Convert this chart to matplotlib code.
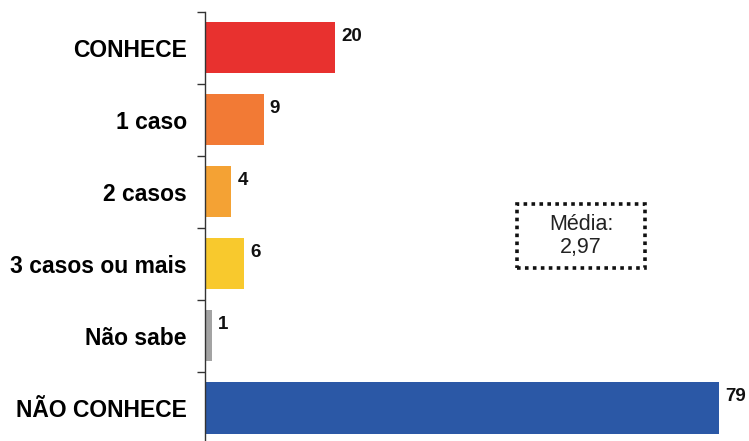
import numpy as np
import matplotlib
matplotlib.use("Agg")
import matplotlib.pyplot as plt
from matplotlib.patches import Rectangle

# Data
categories = ["CONHECE", "1 caso", "2 casos", "3 casos ou mais", "Não sabe", "NÃO CONHECE"]
values = [20, 9, 4, 6, 1, 79]
colors = ["#E8312F", "#F27A35", "#F4A234", "#F8C92D", "#A3A3A3", "#2B58A6"]
media_label = "Média:\n2,97"

plt.rcParams['font.family'] = ['Liberation Sans', 'DejaVu Sans']

fig = plt.figure(figsize=(7.49, 4.41), dpi=100)
# axes: left edge at the vertical axis line, top at first tick, bottom slightly below figure
ax = fig.add_axes([205 / 749, -3 / 441, 1 - 205 / 749, (441 - 11.5 + 3) / 441])

y = np.arange(len(categories))
ax.barh(y, values, height=0.71, color=colors)

ax.set_ylim(len(categories) - 0.5, -0.5)
ax.set_xlim(0, (749 - 205) / 6.5)

# category labels at bar centres, tick marks at boundaries
ax.set_yticks(y)
ax.set_yticklabels(categories, fontsize=16.5, fontweight='bold')
ax.tick_params(axis='y', which='major', length=0, pad=13)
ax.set_yticks(np.arange(len(categories) + 1) - 0.5, minor=True)
ax.tick_params(axis='y', which='minor', length=6, width=1.0, direction='out', color='#333333')
ax.set_xticks([])

for side in ['top', 'right', 'bottom']:
    ax.spines[side].set_visible(False)
ax.spines['left'].set_color('#333333')
ax.spines['left'].set_linewidth(1.0)

# value labels near the top-right of each bar
for yi, v in zip(y, values):
    ax.annotate(str(v), xy=(v, yi - 0.16), xytext=(4.5, 0), textcoords='offset points',
                va='center', ha='left', fontsize=13.5, fontweight='bold', color='#111111')

# "Média" box with dotted border
bx0, by0, bw, bh = 517 / 749, 1 - 268 / 441, 128 / 749, 64 / 441
fig.patches.append(Rectangle((bx0, by0), bw, bh, transform=fig.transFigure,
                             fill=False, linestyle=(0, (1, 1.2)), linewidth=2.6,
                             edgecolor='#111111'))
fig.text(bx0 + bw / 2, by0 + bh / 2, media_label, ha='center', va='center',
         fontsize=15.5, color='#222222', linespacing=1.15)

fig.savefig("out.png", dpi=100)
